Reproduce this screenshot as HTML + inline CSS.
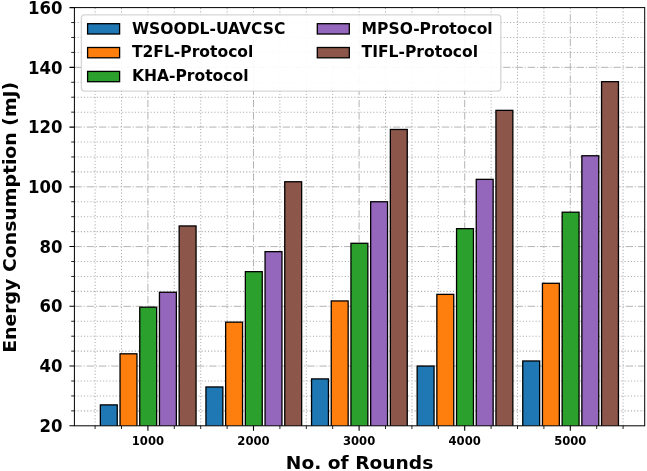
<!DOCTYPE html>
<html><head><meta charset="utf-8"><title>Energy Consumption</title>
<style>html,body{margin:0;padding:0;background:#fff}body{width:647px;height:471px;overflow:hidden}</style></head>
<body>
<svg width="647" height="471" viewBox="0 0 647 471" style="display:block">
<rect width="647" height="471" fill="#fff"/>
<g stroke="#b0b0b0" stroke-width="1" fill="none">
<path d="M95.10 425.8V7.6M121.50 425.8V7.6M174.30 425.8V7.6M200.70 425.8V7.6M227.10 425.8V7.6M279.90 425.8V7.6M306.30 425.8V7.6M332.70 425.8V7.6M385.50 425.8V7.6M411.90 425.8V7.6M438.30 425.8V7.6M491.10 425.8V7.6M517.50 425.8V7.6M543.90 425.8V7.6M596.70 425.8V7.6M623.10 425.8V7.6M74.4 410.86H644.7M74.4 395.93H644.7M74.4 380.99H644.7M74.4 351.12H644.7M74.4 336.19H644.7M74.4 321.25H644.7M74.4 291.38H644.7M74.4 276.44H644.7M74.4 261.51H644.7M74.4 231.64H644.7M74.4 216.70H644.7M74.4 201.76H644.7M74.4 171.89H644.7M74.4 156.96H644.7M74.4 142.02H644.7M74.4 112.15H644.7M74.4 97.21H644.7M74.4 82.28H644.7M74.4 52.41H644.7M74.4 37.47H644.7M74.4 22.54H644.7" stroke-width="1.05" stroke-dasharray="1.15 2.03"/>
<path d="M147.90 425.8V7.6M253.50 425.8V7.6M359.10 425.8V7.6M464.70 425.8V7.6M570.30 425.8V7.6M74.4 366.06H644.7M74.4 306.31H644.7M74.4 246.57H644.7M74.4 186.83H644.7M74.4 127.09H644.7M74.4 67.34H644.7" stroke-width="0.95" stroke-dasharray="7.4 1.85 1.15 1.85"/>
</g>
<defs><clipPath id="ax"><rect x="74.4" y="7.6" width="570.30" height="418.20"/></clipPath></defs>
<g stroke="#000" stroke-width="1.3" stroke-linejoin="miter" clip-path="url(#ax)">
<rect x="100.35" y="404.89" width="16.9" height="40.91" fill="#1f77b4"/>
<rect x="205.95" y="386.97" width="16.9" height="58.83" fill="#1f77b4"/>
<rect x="311.55" y="378.90" width="16.9" height="66.90" fill="#1f77b4"/>
<rect x="417.15" y="366.06" width="16.9" height="79.74" fill="#1f77b4"/>
<rect x="522.75" y="360.98" width="16.9" height="84.82" fill="#1f77b4"/>
<rect x="120.05" y="353.81" width="16.9" height="91.99" fill="#ff7f0e"/>
<rect x="225.65" y="322.15" width="16.9" height="123.65" fill="#ff7f0e"/>
<rect x="331.25" y="300.94" width="16.9" height="144.86" fill="#ff7f0e"/>
<rect x="436.85" y="294.37" width="16.9" height="151.43" fill="#ff7f0e"/>
<rect x="542.45" y="283.31" width="16.9" height="162.49" fill="#ff7f0e"/>
<rect x="139.75" y="307.21" width="16.9" height="138.59" fill="#2ca02c"/>
<rect x="245.35" y="271.66" width="16.9" height="174.14" fill="#2ca02c"/>
<rect x="350.95" y="243.29" width="16.9" height="202.51" fill="#2ca02c"/>
<rect x="456.55" y="228.65" width="16.9" height="217.15" fill="#2ca02c"/>
<rect x="562.15" y="212.22" width="16.9" height="233.58" fill="#2ca02c"/>
<rect x="159.45" y="292.27" width="16.9" height="153.53" fill="#9467bd"/>
<rect x="265.05" y="251.65" width="16.9" height="194.15" fill="#9467bd"/>
<rect x="370.65" y="201.76" width="16.9" height="244.04" fill="#9467bd"/>
<rect x="476.25" y="179.36" width="16.9" height="266.44" fill="#9467bd"/>
<rect x="581.85" y="155.76" width="16.9" height="290.04" fill="#9467bd"/>
<rect x="179.15" y="225.96" width="16.9" height="219.84" fill="#8c564b"/>
<rect x="284.75" y="181.75" width="16.9" height="264.05" fill="#8c564b"/>
<rect x="390.35" y="129.48" width="16.9" height="316.32" fill="#8c564b"/>
<rect x="495.95" y="110.36" width="16.9" height="335.44" fill="#8c564b"/>
<rect x="601.55" y="81.68" width="16.9" height="364.12" fill="#8c564b"/>
</g>
<path d="M147.90 425.8v4.9M253.50 425.8v4.9M359.10 425.8v4.9M464.70 425.8v4.9M570.30 425.8v4.9M74.4 425.80h-4.9M74.4 366.06h-4.9M74.4 306.31h-4.9M74.4 246.57h-4.9M74.4 186.83h-4.9M74.4 127.09h-4.9M74.4 67.34h-4.9M74.4 7.60h-4.9" stroke="#000" stroke-width="1.1" fill="none"/>
<path d="M95.10 425.8v3.2M121.50 425.8v3.2M174.30 425.8v3.2M200.70 425.8v3.2M227.10 425.8v3.2M279.90 425.8v3.2M306.30 425.8v3.2M332.70 425.8v3.2M385.50 425.8v3.2M411.90 425.8v3.2M438.30 425.8v3.2M491.10 425.8v3.2M517.50 425.8v3.2M543.90 425.8v3.2M596.70 425.8v3.2M623.10 425.8v3.2M74.4 410.86h-3.2M74.4 395.93h-3.2M74.4 380.99h-3.2M74.4 351.12h-3.2M74.4 336.19h-3.2M74.4 321.25h-3.2M74.4 291.38h-3.2M74.4 276.44h-3.2M74.4 261.51h-3.2M74.4 231.64h-3.2M74.4 216.70h-3.2M74.4 201.76h-3.2M74.4 171.89h-3.2M74.4 156.96h-3.2M74.4 142.02h-3.2M74.4 112.15h-3.2M74.4 97.21h-3.2M74.4 82.28h-3.2M74.4 52.41h-3.2M74.4 37.47h-3.2M74.4 22.54h-3.2" stroke="#000" stroke-width="0.85" fill="none"/>
<rect x="74.4" y="7.6" width="570.30" height="418.20" fill="none" stroke="#000" stroke-width="1"/>
<g font-family="'DejaVu Sans', 'Liberation Sans', sans-serif" font-weight="bold" fill="#000">
<text transform="translate(62.4,432) scale(0.95,1)" font-size="17.4" text-anchor="end">20</text>
<text transform="translate(62.4,372) scale(0.95,1)" font-size="17.4" text-anchor="end">40</text>
<text transform="translate(62.4,312) scale(0.95,1)" font-size="17.4" text-anchor="end">60</text>
<text transform="translate(62.4,253) scale(0.95,1)" font-size="17.4" text-anchor="end">80</text>
<text transform="translate(62.4,193) scale(0.95,1)" font-size="17.4" text-anchor="end">100</text>
<text transform="translate(62.4,133) scale(0.95,1)" font-size="17.4" text-anchor="end">120</text>
<text transform="translate(62.4,74) scale(0.95,1)" font-size="17.4" text-anchor="end">140</text>
<text transform="translate(62.4,14) scale(0.95,1)" font-size="17.4" text-anchor="end">160</text>
<text x="147.90" y="445.3" font-size="11.6" text-anchor="middle">1000</text>
<text x="253.50" y="445.3" font-size="11.6" text-anchor="middle">2000</text>
<text x="359.10" y="445.3" font-size="11.6" text-anchor="middle">3000</text>
<text x="464.70" y="445.3" font-size="11.6" text-anchor="middle">4000</text>
<text x="570.30" y="445.3" font-size="11.6" text-anchor="middle">5000</text>
<text x="359.55" y="469" font-size="18" textLength="147.5" lengthAdjust="spacingAndGlyphs" text-anchor="middle">No. of Rounds</text>
<text transform="translate(16.1,217.30) rotate(-90) scale(1.037,1)" font-size="18.2" text-anchor="middle">Energy Consumption (mJ)</text>
<rect x="81.4" y="14.9" width="419.4" height="76.2" rx="3" fill="#fff" fill-opacity="0.91" stroke="#ccc" stroke-opacity="0.8" stroke-width="1.3"/>
<rect x="87.6" y="23.7" width="32" height="10.3" fill="#1f77b4" stroke="#000" stroke-width="1.3"/>
<text transform="translate(131.90,33.50) scale(0.972,1.03)" font-size="16">WSOODL-UAVCSC</text>
<rect x="87.6" y="47.5" width="32" height="10.3" fill="#ff7f0e" stroke="#000" stroke-width="1.3"/>
<text transform="translate(131.90,57.30) scale(0.972,1.03)" font-size="16">T2FL-Protocol</text>
<rect x="87.6" y="71.39999999999999" width="32" height="10.3" fill="#2ca02c" stroke="#000" stroke-width="1.3"/>
<text transform="translate(131.90,81.20) scale(0.972,1.03)" font-size="16">KHA-Protocol</text>
<rect x="317.3" y="23.7" width="32" height="10.3" fill="#9467bd" stroke="#000" stroke-width="1.3"/>
<text transform="translate(361.60,33.50) scale(0.972,1.03)" font-size="16">MPSO-Protocol</text>
<rect x="317.3" y="47.5" width="32" height="10.3" fill="#8c564b" stroke="#000" stroke-width="1.3"/>
<text transform="translate(361.60,57.30) scale(0.972,1.03)" font-size="16">TIFL-Protocol</text>
</g>
</svg>
</body></html>
